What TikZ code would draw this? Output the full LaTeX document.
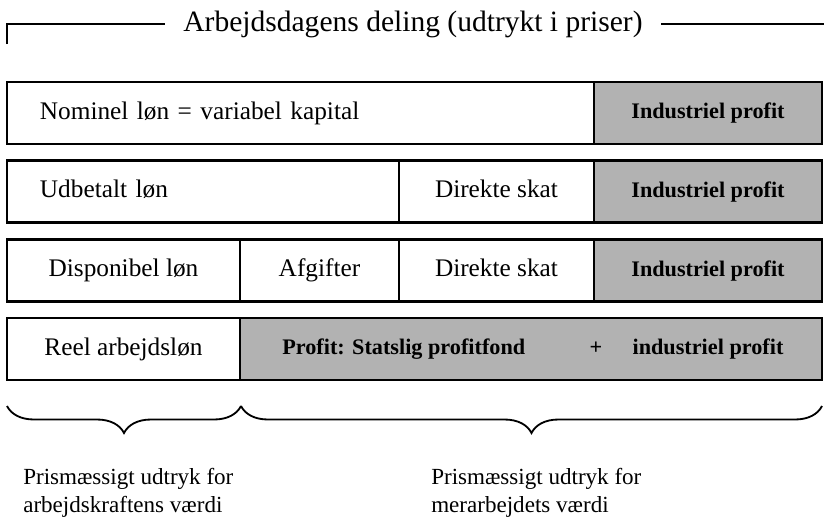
\documentclass[tikz,border=0pt]{standalone}
\usepackage{fontspec}
\setmainfont{Liberation Serif}
\usetikzlibrary{decorations.pathreplacing}

\begin{document}
\begin{tikzpicture}[x=0.025cm, y=-0.025cm,
    cell/.style={draw, line width=1.6pt, minimum height=1.55cm, inner sep=0pt, text height=12.5pt, text depth=3.5pt, font=\fontsize{18}{20}\selectfont},
    shade/.style={cell, fill=black!30, text height=11pt, text depth=3pt, font=\fontsize{15.8}{18}\selectfont\bfseries},
    plain/.style={inner sep=0pt, text height=11pt, text depth=3pt, font=\fontsize{15.8}{18}\selectfont\bfseries},
    note/.style={inner sep=0pt, align=left, font=\fontsize{16.4}{20}\selectfont},
    curly/.style={decorate, decoration={brace, mirror, amplitude=0.675cm}, line width=1.3pt}]

    \useasboundingbox (0,0) rectangle (824,521);

    % title
    \node[inner sep=0pt, inner xsep=13pt, font=\fontsize{21}{24}\selectfont] (title) at (413,24) {Arbejdsdagens deling (udtrykt i priser)};
    \coordinate (tl) at (7,44);
    \coordinate (tr) at (824,24);
    \draw[line width=1.4pt] (tl) |- (title.west);
    \draw[line width=1.4pt] (title.east) -- (tr);

    % row 1
    \node[cell, minimum width=14.675cm, text width=13.025cm, align=left] (nom) at (300.5,113) {Nominel løn = variabel kapital};
    \node[shade, minimum width=5.7cm] (ind1) at (708,113) {Industriel profit};

    % row 2
    \node[cell, minimum width=9.8cm, text width=8.15cm, align=left] (udb) at (203,191.5) {Udbetalt løn};
    \node[cell, minimum width=4.875cm] (dsk1) at (496.5,191.5) {Direkte skat};
    \node[shade, minimum width=5.7cm] (ind2) at (708,191.5) {Industriel profit};

    % row 3
    \node[cell, minimum width=5.825cm] (disp) at (123.5,270.5) {Disponibel løn};
    \node[cell, minimum width=3.975cm] (afg) at (319.5,270.5) {Afgifter};
    \node[cell, minimum width=4.875cm] (dsk2) at (496.5,270.5) {Direkte skat};
    \node[shade, minimum width=5.7cm] (ind3) at (708,270.5) {Industriel profit};

    % row 4
    \node[cell, minimum width=5.825cm] (reel) at (123.5,349) {Reel arbejdsløn};
    \node[shade, minimum width=14.55cm] (prof) at (531,349) {};
    \node[plain, anchor=west] (stat) at (282,349) {Profit: Statslig profitfond};
    \node[plain] (plus) at (596,349) {+};
    \node[plain] (ind4) at (708,349) {industriel profit};

    % braces
    \coordinate (b0) at (7,406);
    \coordinate (b1) at (241,406);
    \coordinate (b2) at (822,406);
    \draw[curly] (b0) -- (b1);
    \draw[curly] (b1) -- (b2);

    \node[note, anchor=west] (lab1) at (23,493) {Prismæssigt udtryk for\\arbejdskraftens værdi};
    \node[note, anchor=west] (lab2) at (431,493) {Prismæssigt udtryk for\\merarbejdets værdi};
\end{tikzpicture}
\end{document}
